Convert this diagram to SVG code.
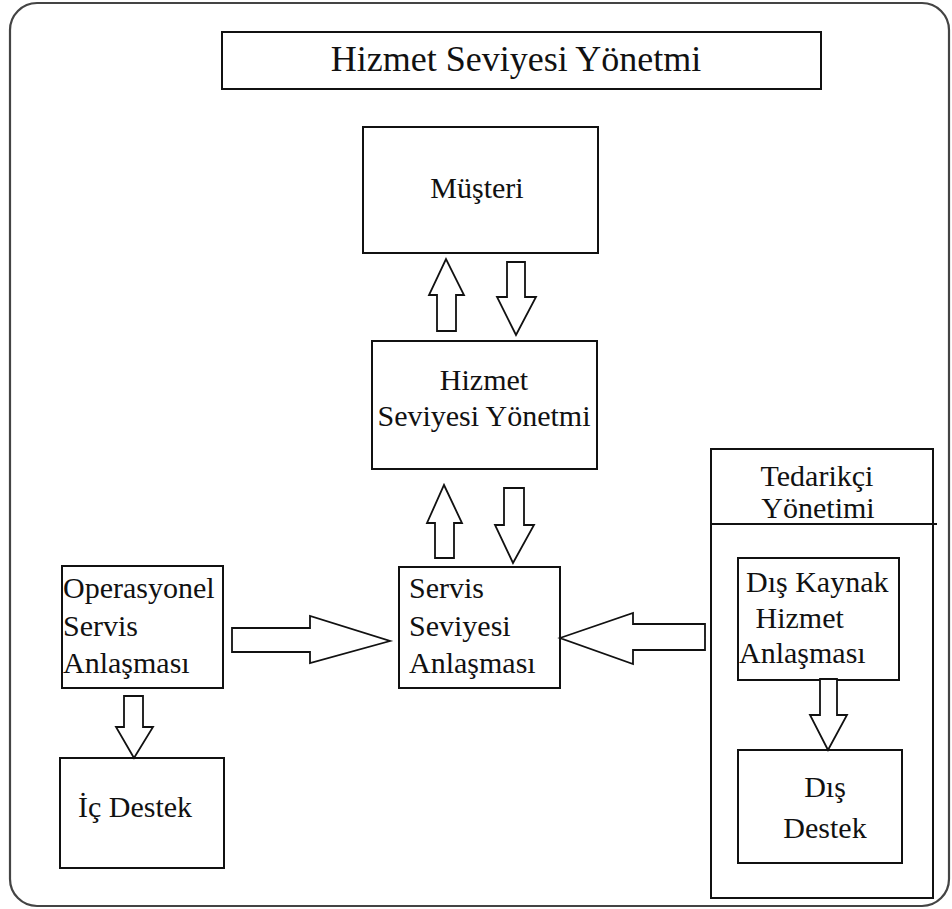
<svg xmlns="http://www.w3.org/2000/svg" width="952" height="909" viewBox="0 0 952 909">
<style>
.box{fill:#fff;stroke:#111;stroke-width:2}
.frame{fill:#fff;stroke:#444;stroke-width:2.2}
.t{font-family:"Liberation Serif","Times New Roman",serif;font-size:30px;fill:#111}
.title{font-size:36px}
.arr{fill:#fff;stroke:#111;stroke-width:1.8;stroke-linejoin:miter}
</style>
<rect class="frame" x="10" y="3" width="939" height="903" rx="27" ry="27"/>
<g id="title">
<rect class="box" x="222" y="32" width="599" height="57"/>
<text class="t title" x="516" y="71" text-anchor="middle">Hizmet Seviyesi Yönetmi</text>
</g>
<g id="musteri">
<rect class="box" x="363" y="127" width="235" height="126"/>
<text class="t" x="477" y="198" text-anchor="middle">Müşteri</text>
</g>
<g id="hsy">
<rect class="box" x="372" y="341" width="225" height="128"/>
<text class="t" x="484" y="390" text-anchor="middle">Hizmet</text>
<text class="t" x="484" y="426" text-anchor="middle">Seviyesi Yönetmi</text>
</g>
<g id="ssa">
<rect class="box" x="399" y="567" width="161" height="121"/>
<text class="t" x="409" y="598">Servis</text>
<text class="t" x="409" y="636">Seviyesi</text>
<text class="t" x="409" y="673">Anlaşması</text>
</g>
<g id="osa">
<rect class="box" x="62" y="566" width="161" height="122"/>
<text class="t" x="63" y="598">Operasyonel</text>
<text class="t" x="63" y="636">Servis</text>
<text class="t" x="63" y="673">Anlaşması</text>
</g>
<g id="icdestek">
<rect class="box" x="60" y="758" width="164" height="110"/>
<text class="t" x="78" y="817">İç Destek</text>
</g>
<g id="tedarikci">
<rect class="box" x="711" y="449" width="222" height="449"/>
<line x1="711" y1="524" x2="937" y2="524" stroke="#111" stroke-width="2"/>
<text class="t" x="817" y="486" text-anchor="middle">Tedarikçi</text>
<text class="t" x="818" y="518" text-anchor="middle">Yönetimi</text>
</g>
<g id="diskaynak">
<rect class="box" x="738" y="558" width="161" height="122"/>
<text class="t" x="746" y="592">Dış Kaynak</text>
<text class="t" x="748" y="628" xml:space="preserve"> Hizmet</text>
<text class="t" x="739" y="663">Anlaşması</text>
</g>
<g id="disdestek">
<rect class="box" x="738" y="750" width="164" height="113"/>
<text class="t" x="825" y="797" text-anchor="middle">Dış</text>
<text class="t" x="825" y="838" text-anchor="middle">Destek</text>
</g>
<g id="connectors">
<polygon class="arr" points="437,331 437,295 429,295 446,259 464,295 456,295 456,331"/>
<polygon class="arr" points="507,262 525,262 525,297 536,297 516,335 497,297 507,297"/>
<polygon class="arr" points="435,558 435,523 427,523 444,485 462,523 454,523 454,558"/>
<polygon class="arr" points="504,488 524,488 524,525 534,525 513,563 495,525 504,525"/>
<polygon class="arr" points="232,628 310,628 310,616 390,641 310,663 310,652 232,652"/>
<polygon class="arr" points="560,638 633,613 633,624 705,624 705,650 633,650 633,664"/>
<polygon class="arr" points="124,696 143,696 143,727 153,727 134,758 116,727 124,727"/>
<polygon class="arr" points="820,679 837,679 837,715 847,715 828,750 810,715 820,715"/>
</g>
</svg>
